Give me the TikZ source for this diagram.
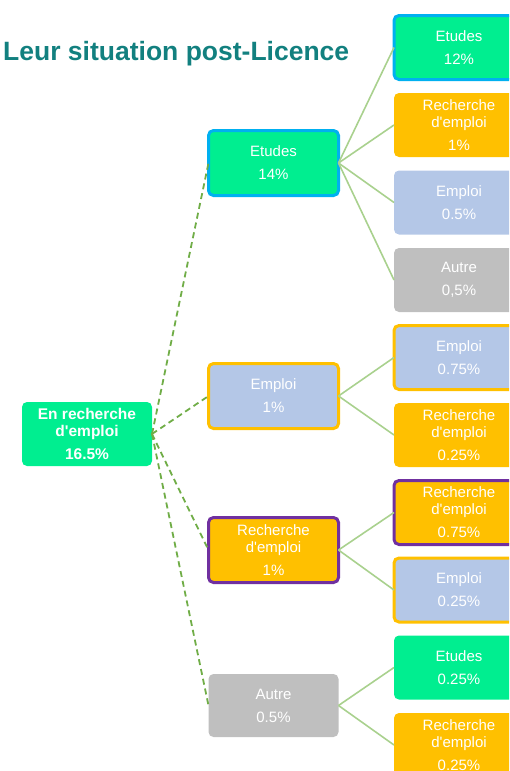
\documentclass[tikz,border=0pt]{standalone}
\usepackage{fontspec}
\setmainfont{Liberation Sans}[Ligatures=TeXOff]
\usepackage{tikz}
\usetikzlibrary{positioning,arrows.meta}
\definecolor{mint}{HTML}{00EE90}
\definecolor{sky}{HTML}{00B0F0}
\definecolor{gold}{HTML}{FFC000}
\definecolor{pale}{HTML}{B4C7E7}
\definecolor{ash}{HTML}{BFBFBF}
\definecolor{plum}{HTML}{7030A0}
\definecolor{titleteal}{HTML}{12807F}
\definecolor{leaf}{HTML}{A9D18E}
\definecolor{moss}{HTML}{70AD47}
\tikzset{%
  tbox/.style  = { fill = #1, text = white, align = center, rounded corners = 5pt, inner sep = 0pt, outer sep = 0pt,
                   minimum width = 130pt, minimum height = 64pt, font = \fontsize{15}{23}\selectfont },
  rim/.style   = { draw = #1, line width = 3pt },
  link/.style  = { draw = leaf, line width = 1.6pt },
  dlink/.style = { draw = moss, line width = 1.8pt, dash pattern = on 6pt off 4pt }
}

\begin{document}
\begin{tikzpicture}
  \useasboundingbox (0,0) rectangle (509pt,-771pt);
  \clip (0,0) rectangle (509pt,-771pt);
  \node(t)[anchor=west, inner sep=0pt, text=titleteal, font=\fontsize{26.5}{30}\selectfont\bfseries]
    at (3pt,-54pt) {Leur situation post-Licence};
  % root
  \node(r)[tbox=mint, font=\fontsize{15.5}{23}\selectfont\bfseries] at (87pt,-434pt)
    {En recherche\\[-6pt]d'emploi\\16.5\%};
  % first level
  \node(et)[tbox=mint, rim=sky, minimum height=65pt] at (273.5pt,-163pt) {Etudes\\14\%};
  \node(em)[tbox=pale, rim=gold, minimum height=65pt] at (273.5pt,-396pt) {Emploi\\1\%};
  \node(re)[tbox=gold, rim=plum, minimum height=65pt] at (273.5pt,-550pt) {Recherche\\[-6pt]d'emploi\\1\%};
  \node(au)[tbox=ash, minimum height=63pt] at (273.5pt,-705.5pt) {Autre\\0.5\%};
  % second level
  \node(e1)[tbox=mint, rim=sky] at (459pt,-47.5pt) {Etudes\\12\%};
  \node(r1)[tbox=gold, below = 13.5pt of e1] {Recherche\\[-6pt]d'emploi\\1\%};
  \node(m1)[tbox=pale, below = 13.5pt of r1] {Emploi\\0.5\%};
  \node(a1)[tbox=ash, below = 13.5pt of m1] {Autre\\0,5\%};
  \node(m2)[tbox=pale, rim=gold, below = 13.5pt of a1] {Emploi\\0.75\%};
  \node(r2)[tbox=gold, below = 13.5pt of m2] {Recherche\\[-6pt]d'emploi\\0.25\%};
  \node(r3)[tbox=gold, rim=plum, below = 13.5pt of r2] {Recherche\\[-6pt]d'emploi\\0.75\%};
  \node(m3)[tbox=pale, rim=gold, below = 13.5pt of r3] {Emploi\\0.25\%};
  \node(e2)[tbox=mint, below = 13.5pt of m3] {Etudes\\0.25\%};
  \node(r4)[tbox=gold, below = 13.5pt of e2] {Recherche\\[-6pt]d'emploi\\0.25\%};
  % connectors
  \draw[dlink] (r.east) -- (et.west);
  \draw[dlink] (r.east) -- (em.west);
  \draw[dlink] (r.east) -- (re.west);
  \draw[dlink] (r.east) -- (au.west);
  \draw[link] (et.east) -- (e1.west);
  \draw[link] (et.east) -- (r1.west);
  \draw[link] (et.east) -- (m1.west);
  \draw[link] (et.east) -- (a1.west);
  \draw[link] (em.east) -- (m2.west);
  \draw[link] (em.east) -- (r2.west);
  \draw[link] (re.east) -- (r3.west);
  \draw[link] (re.east) -- (m3.west);
  \draw[link] (au.east) -- (e2.west);
  \draw[link] (au.east) -- (r4.west);
\end{tikzpicture}
\end{document}
